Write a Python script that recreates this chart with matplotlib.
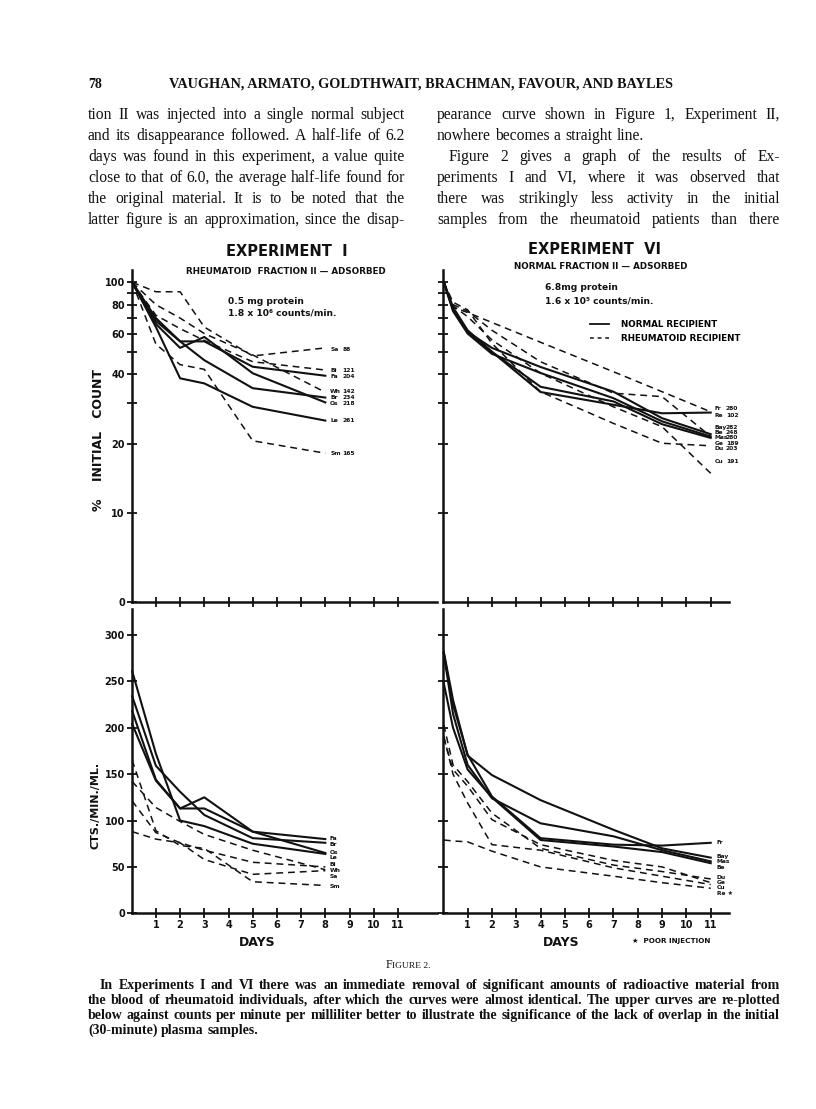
import matplotlib
matplotlib.use("Agg")
import matplotlib.pyplot as plt
from matplotlib.lines import Line2D
from matplotlib.ticker import NullLocator
from matplotlib.transforms import IdentityTransform

# ---------------- data ----------------
# Experiment I (rheumatoid fraction II) : sample days
days_I = [0.02, 1, 2, 3, 5, 8]
# percent of initial count (upper left)
pct_I_Sa = [100, 91, 91, 64, 48, 52]
pct_I_Bi = [100, 72, 63, 56, 45.3, 41.7]
pct_I_Fa = [100, 70, 55.5, 55.5, 43.1, 39.4]
pct_I_Wh = [100, 80, 70, 60, 48.5, 33.4]
pct_I_Br = [100, 68, 55.5, 46, 34.8, 31.7]
pct_I_Os = [100, 66, 52, 58, 40.4, 30.2]
pct_I_Le = [100, 64, 38.4, 36.5, 28.9, 25.2]
pct_I_Sm = [100, 54, 44, 42, 20.6, 18.2]
# counts/min/ml (lower left)
cts_I_Fa = [204, 143, 113, 113, 88, 80]
cts_I_Br = [234, 159, 131, 106, 81, 76]
cts_I_Os = [218, 144, 113, 125, 88, 65]
cts_I_Le = [261, 172, 100, 94, 75, 64]
cts_I_Bi = [121, 87, 76, 68, 55, 50]
cts_I_Wh = [142, 114, 99, 85, 68, 47]
cts_I_Sa = [88, 80, 76, 58, 42, 46]
cts_I_Sm = [165, 89, 73, 70, 34, 30]
names_I = ["Sa", "Bi", "Fa", "Wh", "Br", "Os", "Le", "Sm"]
initial_I = ["88", "121", "204", "142", "234", "218", "261", "165"]
normal_I = ["Fa", "Br", "Os", "Le"]          # solid lines

# Experiment VI (normal fraction II)
days_VI = [0.02, 0.4, 1, 2, 4, 7, 9, 11]
pct_VI_Fr = [100, 78, 62, 50, 33.5, 29.5, 27.1, 27.3]
pct_VI_Bay = [100, 77, 61, 52, 43, 33.6, 25.8, 22.0]
pct_VI_Be = [100, 75, 60, 49, 40.5, 31.5, 25.0, 21.5]
pct_VI_Mas = [100, 76, 61, 50, 35.3, 30.5, 24.3, 21.2]
pct_VI_Re = [100, 78, 74, 67, 55, 41, 33.6, 27.5]
pct_VI_Ge = [100, 80, 75, 62, 45.3, 33.1, 32, 21.5]
pct_VI_Du = [100, 82, 76, 54.4, 33.6, 24.5, 20.1, 19.6]
pct_VI_Cu = [100, 79, 71, 56.3, 40.4, 28.9, 23.7, 14.9]
cts_VI_Fr = [280, 225, 171, 126, 81, 74, 73, 76]
cts_VI_Bay = [282, 230, 170, 149, 122, 90, 70, 60]
cts_VI_Mas = [280, 215, 160, 124, 97, 83, 68, 56]
cts_VI_Be = [248, 200, 155, 125, 79, 72, 66, 54]
cts_VI_Re = [79, 78, 77, 67, 50, 40, 33, 27]
cts_VI_Ge = [189, 155, 137, 101, 74, 57, 50, 33]
cts_VI_Du = [203, 160, 142, 108, 70, 52, 45, 37]
cts_VI_Cu = [191, 150, 119, 74, 68, 49, 40, 31]
names_VI_top = ["Fr", "Re", "Bay", "Be", "Mas", "Ge", "Du", "Cu"]
initial_VI = ["280", "102", "282", "248", "280", "189", "203", "191"]
names_VI_bot = ["Fr", "Bay", "Mas", "Be", "Du", "Ge", "Cu", "Re \u2605"]
normal_VI = ["Fr", "Bay", "Be", "Mas"]

pct_ticks = [10, 20, 30, 40, 50, 60, 70, 80, 90, 100]
pct_ticklabels = ["10", "20", "", "40", "", "60", "", "80", "", "100"]
cts_ticks = [0, 50, 100, 150, 200, 250, 300]
day_ticks = [1, 2, 3, 4, 5, 6, 7, 8, 9, 10, 11]

# ---------------- layout (pixels) ----------------
W, H = 816, 1109
fig = plt.figure(figsize=(W / 100, H / 100), dpi=100)
fig.patch.set_facecolor("white")
INK = "#111111"
SANS = "DejaVu Sans"
SERIF = "Liberation Serif"

def axes_px(x0, x1, ytop, ybot):
    return fig.add_axes([x0 / W, 1 - ybot / H, (x1 - x0) / W, (ybot - ytop) / H])

def ftext(x, y, s, **kw):
    kw.setdefault("color", INK)
    return fig.text(x / W, 1 - y / H, s, **kw)

LX0, LX1, LDAY = 131.7, 437.0, 24.2
RX0, RX1, RDAY = 443.3, 729.0, 24.31
TOP_Y0, TOP_Y1 = 270.0, 601.5
Y100, DEC = 282.3, 231.0
BOT_Y0, BOT_Y1, CPX = 609.0, 913.3, 0.9277

def ylog(ypx):
    return 10 ** (2 + (Y100 - ypx) / DEC)

def style(ax, bottom_labels):
    for s in ("top", "right"):
        ax.spines[s].set_visible(False)
    for s in ("left", "bottom"):
        ax.spines[s].set_linewidth(1.8)
        ax.spines[s].set_color(INK)
    ax.patch.set_alpha(0)
    ax.tick_params(direction="inout", length=7, width=1.3, colors=INK,
                   labelsize=7, pad=1.5)
    ax.set_xticks(day_ticks)
    if bottom_labels:
        ax.set_xticklabels([str(d) for d in day_ticks], fontweight="bold",
                           family=SANS)
    else:
        ax.set_xticklabels([])
    for lab in ax.get_yticklabels():
        lab.set_fontweight("bold")

def line_kw(name, normals):
    if name in normals:
        return dict(color=INK, lw=1.5, ls="-")
    return dict(color=INK, lw=1.1, ls=(0, (4.5, 3.2)))

LABEL_FS = 4.3

# ---- top left ----
axTL = axes_px(LX0, LX1, TOP_Y0, TOP_Y1)
axTL.set_yscale("log")
axTL.set_xlim(0, (LX1 - LX0) / LDAY)
axTL.set_ylim(ylog(TOP_Y1), ylog(TOP_Y0))
pct_I = [pct_I_Sa, pct_I_Bi, pct_I_Fa, pct_I_Wh, pct_I_Br, pct_I_Os, pct_I_Le, pct_I_Sm]
for n, v in zip(names_I, pct_I):
    axTL.plot(days_I, v, clip_on=False, **line_kw(n, normal_I))
axTL.yaxis.set_minor_locator(NullLocator())
axTL.set_yticks([ylog(TOP_Y1)] + pct_ticks)
axTL.set_yticklabels(["0"] + pct_ticklabels)
style(axTL, False)
labTL_y = [51.1, 41.4, 39.0, 33.8, 31.8, 30.0, 25.2, 18.2]
for n, num, yv in zip(names_I, initial_I, labTL_y):
    axTL.text(8.2, yv, n, fontsize=LABEL_FS, fontweight="bold", va="center", color=INK)
    axTL.text(8.72, yv, num, fontsize=LABEL_FS, fontweight="bold", va="center", color=INK)

# ---- top right ----
axTR = axes_px(RX0, RX1, TOP_Y0, TOP_Y1)
axTR.set_yscale("log")
axTR.set_xlim(0, (RX1 - RX0) / RDAY)
axTR.set_ylim(ylog(TOP_Y1), ylog(TOP_Y0))
pct_VI = [pct_VI_Fr, pct_VI_Re, pct_VI_Bay, pct_VI_Be, pct_VI_Mas, pct_VI_Ge, pct_VI_Du, pct_VI_Cu]
for n, v in zip(names_VI_top, pct_VI):
    axTR.plot(days_VI, v, clip_on=False, **line_kw(n, normal_VI))
axTR.yaxis.set_minor_locator(NullLocator())
axTR.set_yticks(pct_ticks)
axTR.set_yticklabels([])
style(axTR, False)
labTR_y = [28.3, 26.5, 23.6, 22.4, 21.2, 20.1, 19.0, 16.7]
for n, num, yv in zip(names_VI_top, initial_VI, labTR_y):
    axTR.text(11.15, yv, n, fontsize=LABEL_FS, fontweight="bold", va="center", color=INK)
    axTR.text(11.62, yv, num, fontsize=LABEL_FS, fontweight="bold", va="center", color=INK)
axTR.legend(handles=[Line2D([], [], color=INK, lw=1.3),
                     Line2D([], [], color=INK, lw=1.1, ls=(0, (2.5, 2.5)))],
            labels=["NORMAL RECIPIENT", "RHEUMATOID RECIPIENT"],
            loc="upper left", bbox_to_anchor=(590 / W, 1 - 320 / H),
            bbox_transform=fig.transFigure, frameon=False, borderpad=0,
            borderaxespad=0, handlelength=2.2, handletextpad=1.3,
            labelspacing=0.55, prop=dict(family=SANS, weight="bold", size=6.3))

# ---- bottom left ----
axBL = axes_px(LX0, LX1, BOT_Y0, BOT_Y1)
axBL.set_xlim(0, (LX1 - LX0) / LDAY)
axBL.set_ylim(0, (BOT_Y1 - BOT_Y0) / CPX)
cts_I = [cts_I_Sa, cts_I_Bi, cts_I_Fa, cts_I_Wh, cts_I_Br, cts_I_Os, cts_I_Le, cts_I_Sm]
for n, v in zip(names_I, cts_I):
    axBL.plot(days_I, v, clip_on=False, **line_kw(n, normal_I))
axBL.set_yticks(cts_ticks)
axBL.set_yticklabels([str(c) for c in cts_ticks])
style(axBL, True)
labBL_names = ["Fa", "Br", "Os", "Le", "Bi", "Wh", "Sa", "Sm"]
labBL_y = [80.8, 74.4, 65.8, 60.4, 52.1, 45.9, 40.2, 28.7]
for n, yv in zip(labBL_names, labBL_y):
    axBL.text(8.17, yv, n, fontsize=LABEL_FS, fontweight="bold", va="center", color=INK)

# ---- bottom right ----
axBR = axes_px(RX0, RX1, BOT_Y0, BOT_Y1)
axBR.set_xlim(0, (RX1 - RX0) / RDAY)
axBR.set_ylim(0, (BOT_Y1 - BOT_Y0) / CPX)
cts_VI = [cts_VI_Fr, cts_VI_Bay, cts_VI_Mas, cts_VI_Be, cts_VI_Du, cts_VI_Ge, cts_VI_Cu, cts_VI_Re]
for n, v in zip(names_VI_bot, cts_VI):
    axBR.plot(days_VI, v, clip_on=False, **line_kw(n, normal_VI))
axBR.set_yticks(cts_ticks)
axBR.set_yticklabels([])
style(axBR, True)
labBR_y = [76.1, 61.0, 55.3, 49.6, 38.4, 33.0, 28.0, 21.6]
for n, yv in zip(names_VI_bot, labBR_y):
    axBR.text(11.25, yv, n, fontsize=LABEL_FS, fontweight="bold", va="center", color=INK)

# ---------------- chart texts ----------------
B = dict(family=SANS, fontweight="bold")
ftext(287, 252, "EXPERIMENT  I", ha="center", va="center", fontsize=10.5, **B)
ftext(286, 271, "RHEUMATOID  FRACTION II \u2014 ADSORBED", ha="center", va="center", fontsize=6.3, **B)
ftext(228, 301, "0.5 mg protein", ha="left", va="center", fontsize=6.6, **B)
ftext(228, 313.5, "1.8 x 10\u2076 counts/min.", ha="left", va="center", fontsize=6.6, **B)
ftext(594, 250, "EXPERIMENT  VI", ha="center", va="center", fontsize=10.5, **B)
ftext(601, 266.5, "NORMAL FRACTION II \u2014 ADSORBED", ha="center", va="center", fontsize=6.3, **B)
ftext(545, 288, "6.8mg protein", ha="left", va="center", fontsize=6.6, **B)
ftext(545, 301, "1.6 x 10\u2075 counts/min.", ha="left", va="center", fontsize=6.6, **B)
ftext(98, 440, "%    INITIAL   COUNT", ha="center", va="center", rotation=90, fontsize=9, **B)
ftext(95, 805, "CTS./MIN./ML.", ha="center", va="center", rotation=90, fontsize=8, **B)
ftext(257, 942, "DAYS", ha="center", va="center", fontsize=9, **B)
ftext(561, 942, "DAYS", ha="center", va="center", fontsize=9, **B)
ftext(632, 941, "\u2605  POOR INJECTION", ha="left", va="center", fontsize=5.2, **B)

# ---------------- page texts ----------------
renderer = fig.canvas.get_renderer()

def text_width(s, size, weight="normal"):
    t = fig.text(0, 0, s, fontsize=size, family=SERIF, fontweight=weight,
                 transform=IdentityTransform())
    w = t.get_window_extent(renderer).width
    t.remove()
    return w

def fit_size(lines, width, base=10.0, weight="normal"):
    widest = max(text_width(s, base, weight) for s in lines)
    return base * width / widest * 0.985

def put_line(text, x0, x1, ybase, size, justify=True, indent=0.0, weight="normal"):
    words = text.split()
    objs = [fig.text(0, 0, w, fontsize=size, family=SERIF, fontweight=weight,
                     transform=IdentityTransform(), ha="left", va="baseline",
                     color=INK) for w in words]
    widths = [o.get_window_extent(renderer).width for o in objs]
    if justify and len(words) > 1:
        gap = (x1 - x0 - indent - sum(widths)) / (len(words) - 1)
    else:
        gap = size * 100 / 72 * 0.27
    x = x0 + indent
    for o, w in zip(objs, widths):
        o.set_position((x, H - ybase))
        x += w + gap

ftext(88, 88, "78", ha="left", va="baseline", fontsize=10, family=SERIF, fontweight="bold")
head = "VAUGHAN, ARMATO, GOLDTHWAIT, BRACHMAN, FAVOUR, AND BAYLES"
head_fs = 7.2 * 500 / text_width(head, 7.2, "bold")
ftext(421, 88, head, ha="center", va="baseline", fontsize=head_fs,
      family=SERIF, fontweight="bold")

left_col = ["tion II was injected into a single normal subject",
            "and its disappearance followed.  A half-life of 6.2",
            "days was found in this experiment, a value quite",
            "close to that of 6.0, the average half-life found for",
            "the original material.  It is to be noted that the",
            "latter figure is an approximation, since the disap-"]
right_col = ["pearance curve shown in Figure 1, Experiment II,",
             "nowhere becomes a straight line.",
             "Figure 2 gives a graph of the results of Ex-",
             "periments I and VI, where it was observed that",
             "there was strikingly less activity in the initial",
             "samples from the rheumatoid patients than there"]
body_fs = fit_size(left_col, 405 - 88)
base_y = [119, 140, 161, 182, 203, 224]
for i, (a, b) in enumerate(zip(left_col, right_col)):
    put_line(a, 88, 405, base_y[i], body_fs)
    put_line(b, 437, 780, base_y[i], body_fs, justify=(i != 1),
             indent=(12 if i == 2 else 0))

# "FIGURE 2." in small capitals
fw = text_width("F", 8.6)
rest = text_width("IGURE 2.", 6.8)
fx = 408 - (fw + rest) / 2
fig.text(fx, H - 968, "F", fontsize=8.6, family=SERIF, transform=IdentityTransform(),
         ha="left", va="baseline", color=INK)
fig.text(fx + fw, H - 968, "IGURE 2.", fontsize=6.8, family=SERIF,
         transform=IdentityTransform(), ha="left", va="baseline", color=INK)

caption = ["In Experiments I and VI there was an immediate removal of significant amounts of radioactive material from",
           "the blood of rheumatoid individuals, after which the curves were almost identical.  The upper curves are re-plotted",
           "below against counts per minute per milliliter better to illustrate the significance of the lack of overlap in the initial",
           "(30-minute) plasma samples."]
cap_fs = fit_size(caption[:3], 780 - 88, weight="bold")
cap_y = [989, 1004, 1019, 1034]
for i, line in enumerate(caption):
    put_line(line, 88, 780, cap_y[i], cap_fs, justify=(i < 3),
             indent=(12 if i == 0 else 0), weight="bold")

fig.savefig("out.png", dpi=100, facecolor="white")
